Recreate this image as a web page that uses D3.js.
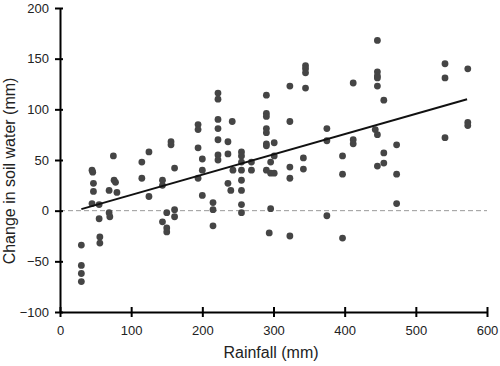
<!DOCTYPE html>
<html><head><meta charset="utf-8">
<script src="https://cdn.jsdelivr.net/npm/d3@7"></script>
<style>body{margin:0;background:#fff}svg{display:block}text{font-family:"Liberation Sans",Arial,sans-serif}</style>
</head><body><svg id="c" width="500" height="366"></svg>
<script>
const rainfall = [30,30,30,30, 45,46,47,47,45, 55,55,56,56, 69,69,70, 75,76, 78,80,
 115,115, 125,125, 144,144,144, 150,150,150, 156,156, 161,161,161,
 194,194,194,194, 200,200,200, 215,215,215, 222,222,222,222,222,222,222,
 236,236,236,240, 242,243, 255,255,255,255,255,255,255,255, 269,269,
 290,290,290,290,290,290,290,290, 296,296,296,294, 301,301,301,
 323,323,323,323,323, 345,345,345,345,342,342, 375,375,375, 397,397,397,
 412,412,412, 446,446,446,446,446,443,446,446, 455,455,455, 473,473,473,
 541,541,541, 573,573,573];
const soilWater = [-34,-54,-62,-70, 40,38,27,19,7, 6,-8,-26,-32, 20,-2,-6, 54,30, 28,18,
 48,32, 58,14, 30,25,-11, -2,-17,-21, 68,65, 42,1,-6,
 85,80,62,32, 51,40,15, 8,1,-15, 116,110,90,81,70,55,50,
 68,56,27,20, 88,40, 58,54,48,40,30,20,6,-2, 48,40,
 114,96,93,81,77,66,64,40, 48,37,2,-22, 67,54,37,
 123,88,43,32,-25, 143,140,136,121,52,41, 81,69,-5, 54,36,-27,
 126,70,66, 168,137,133,131,123,80,75,44, 109,57,47, 65,36,7,
 145,131,72, 140,87,84];
const fitLine = [[30,1.5],[572,110]];
const xTicks = [0,100,200,300,400,500,600];
const yTicks = [-100,-50,0,50,100,150,200];

const svg = d3.select("#c");
const x = d3.scaleLinear().domain([0,600]).range([60,487]);
const y = d3.scaleLinear().domain([-100,200]).range([312,8]);
const fmt = d => d < 0 ? "\u2212" + Math.abs(d) : String(d);

// zero reference line
svg.append("line").attr("x1",x(0)).attr("x2",x(600)).attr("y1",y(0)).attr("y2",y(0))
  .attr("stroke","#9a9a9a").attr("stroke-width",1).attr("stroke-dasharray","5,3");

// points
svg.append("g").selectAll("circle").data(rainfall.map((r,i)=>[r,soilWater[i]])).join("circle")
  .attr("cx",d=>x(d[0])).attr("cy",d=>y(d[1])).attr("r",3.4).attr("fill","#454545");

// fit line
svg.append("path").attr("d", d3.line().x(d=>x(d[0])).y(d=>y(d[1]))(fitLine))
  .attr("stroke","#111").attr("stroke-width",2).attr("fill","none");

// axes
const gx = svg.append("g").attr("transform",`translate(0,${y(-100)})`)
  .call(d3.axisBottom(x).tickValues(xTicks).tickFormat(fmt).tickSize(5).tickSizeOuter(0).tickPadding(9));
gx.selectAll(".tick line").attr("y1",-5);
const gy = svg.append("g").attr("transform",`translate(${x(0)},0)`)
  .call(d3.axisLeft(y).tickValues(yTicks).tickFormat(fmt).tickSize(5).tickSizeOuter(0).tickPadding(6));
gy.selectAll(".tick line").attr("x1",3);
[gx,gy].forEach(g=>{
  g.select(".domain").attr("stroke","#000").attr("stroke-width",2);
  g.selectAll(".tick line").attr("stroke","#000").attr("stroke-width",2);
  g.selectAll("text").attr("font-size",13).attr("fill","#222").style("font-family","Liberation Sans, Arial, sans-serif");
});

svg.append("text").attr("x",271).attr("y",358).attr("text-anchor","middle")
  .attr("font-size",16).attr("fill","#222").text("Rainfall (mm)");
svg.append("text").attr("transform","translate(15,171) rotate(-90)").attr("text-anchor","middle")
  .attr("font-size",16).attr("fill","#222").text("Change in soil water (mm)");
</script></body></html>
